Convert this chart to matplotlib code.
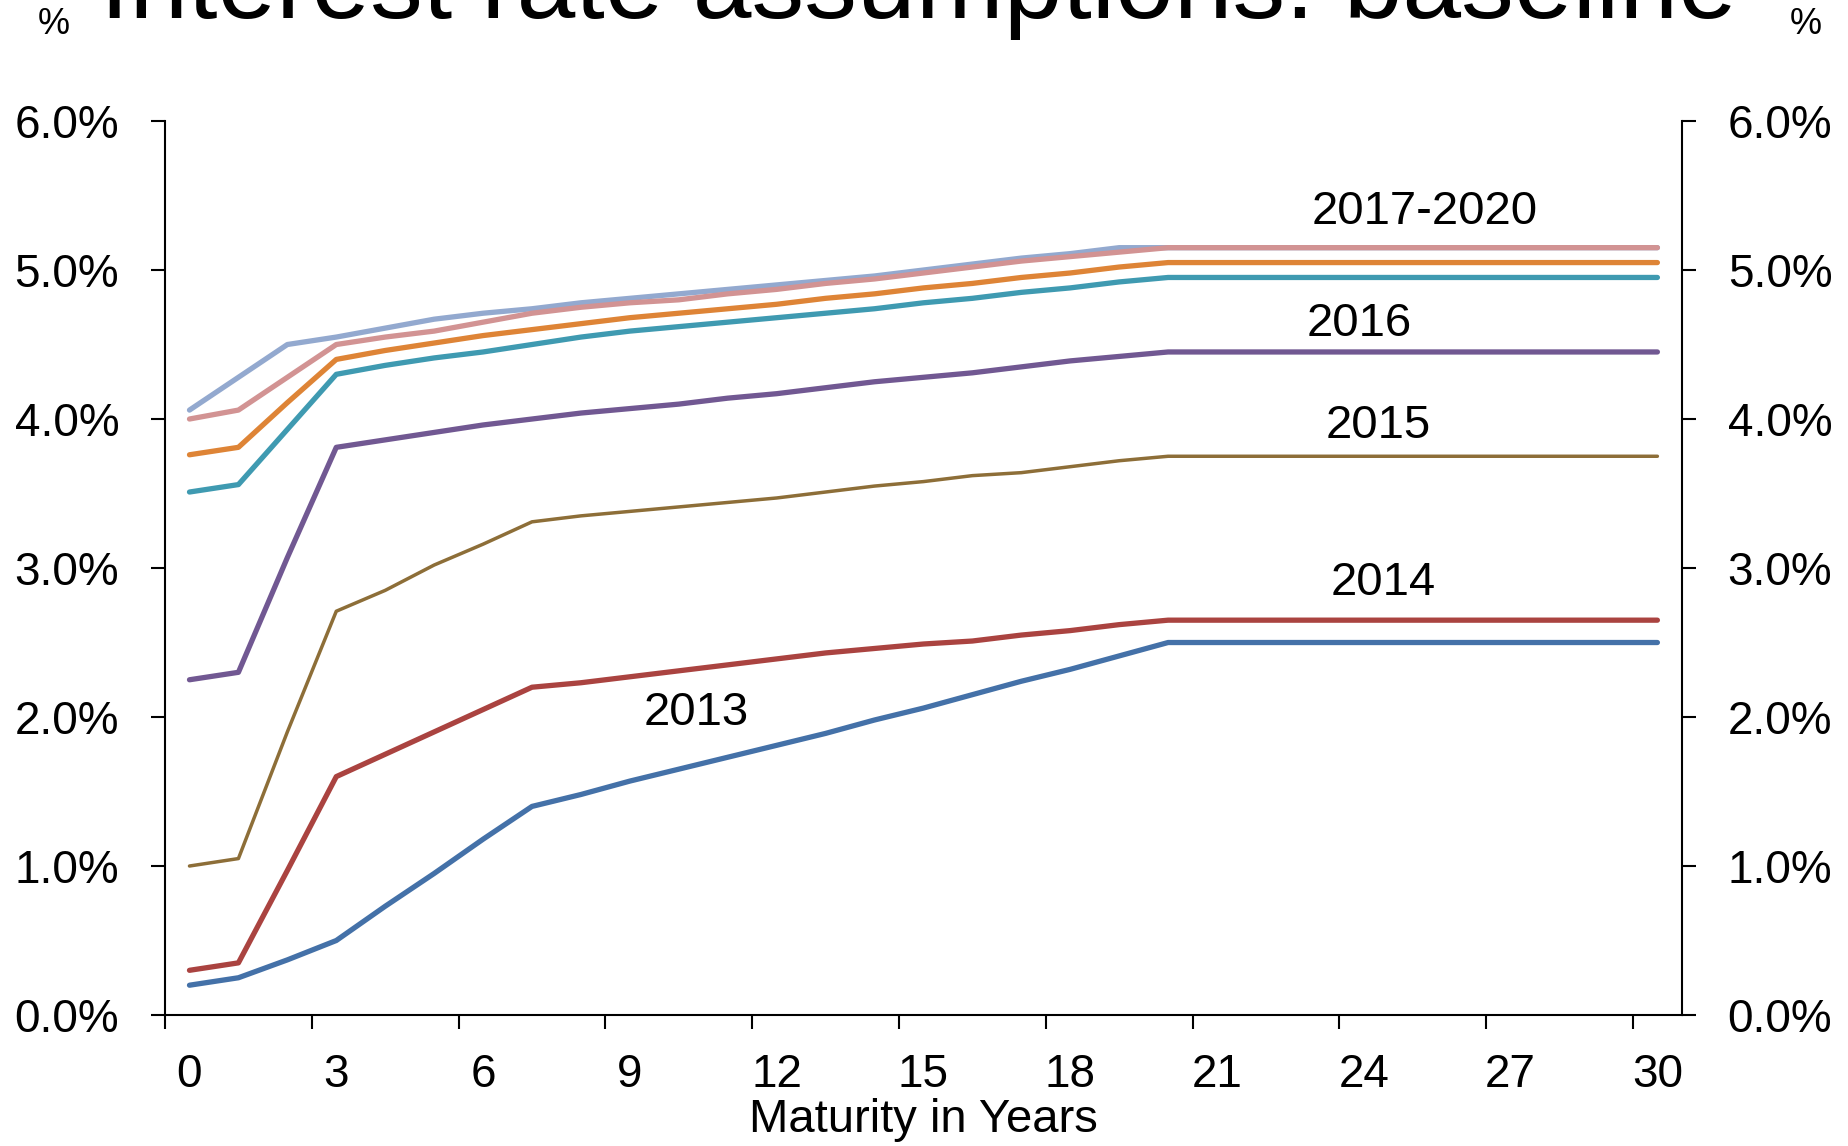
import matplotlib
matplotlib.use('Agg')
import matplotlib.pyplot as plt
from matplotlib.ticker import FixedLocator, FuncFormatter

plt.rcParams['font.family'] = ['Liberation Sans', 'DejaVu Sans']

# maturity in years (category axis)
maturity = list(range(31))
tick_years = [0, 3, 6, 9, 12, 15, 18, 21, 24, 27, 30]

# interest rate curves, % per year of maturity
rates_2013 = [0.20, 0.25, 0.37, 0.50, 0.73, 0.95, 1.18, 1.40, 1.48, 1.57, 1.65,
              1.73, 1.81, 1.89, 1.98, 2.06, 2.15, 2.24, 2.32, 2.41, 2.50,
              2.50, 2.50, 2.50, 2.50, 2.50, 2.50, 2.50, 2.50, 2.50, 2.50]
rates_2014 = [0.30, 0.35, 0.97, 1.60, 1.75, 1.90, 2.05, 2.20, 2.23, 2.27, 2.31,
              2.35, 2.39, 2.43, 2.46, 2.49, 2.51, 2.55, 2.58, 2.62, 2.65,
              2.65, 2.65, 2.65, 2.65, 2.65, 2.65, 2.65, 2.65, 2.65, 2.65]
rates_2015 = [1.00, 1.05, 1.90, 2.71, 2.85, 3.02, 3.16, 3.31, 3.35, 3.38, 3.41,
              3.44, 3.47, 3.51, 3.55, 3.58, 3.62, 3.64, 3.68, 3.72, 3.75,
              3.75, 3.75, 3.75, 3.75, 3.75, 3.75, 3.75, 3.75, 3.75, 3.75]
rates_2016 = [2.25, 2.30, 3.07, 3.81, 3.86, 3.91, 3.96, 4.00, 4.04, 4.07, 4.10,
              4.14, 4.17, 4.21, 4.25, 4.28, 4.31, 4.35, 4.39, 4.42, 4.45,
              4.45, 4.45, 4.45, 4.45, 4.45, 4.45, 4.45, 4.45, 4.45, 4.45]
rates_2017 = [3.51, 3.56, 3.93, 4.30, 4.36, 4.41, 4.45, 4.50, 4.55, 4.59, 4.62,
              4.65, 4.68, 4.71, 4.74, 4.78, 4.81, 4.85, 4.88, 4.92, 4.95,
              4.95, 4.95, 4.95, 4.95, 4.95, 4.95, 4.95, 4.95, 4.95, 4.95]
rates_2018 = [3.76, 3.81, 4.11, 4.40, 4.46, 4.51, 4.56, 4.60, 4.64, 4.68, 4.71,
              4.74, 4.77, 4.81, 4.84, 4.88, 4.91, 4.95, 4.98, 5.02, 5.05,
              5.05, 5.05, 5.05, 5.05, 5.05, 5.05, 5.05, 5.05, 5.05, 5.05]
rates_2020 = [4.06, 4.28, 4.50, 4.55, 4.61, 4.67, 4.71, 4.74, 4.78, 4.81, 4.84,
              4.87, 4.90, 4.93, 4.96, 5.00, 5.04, 5.08, 5.11, 5.15, 5.15,
              5.15, 5.15, 5.15, 5.15, 5.15, 5.15, 5.15, 5.15, 5.15, 5.15]
rates_2019 = [4.00, 4.06, 4.28, 4.50, 4.55, 4.59, 4.65, 4.71, 4.75, 4.78, 4.80,
              4.84, 4.87, 4.91, 4.94, 4.98, 5.02, 5.06, 5.09, 5.12, 5.15,
              5.15, 5.15, 5.15, 5.15, 5.15, 5.15, 5.15, 5.15, 5.15, 5.15]

series = [
    (rates_2020, '#93a9cf', 3.8),
    (rates_2019, '#d29393', 3.8),
    (rates_2018, '#de8436', 3.8),
    (rates_2017, '#3f9ab1', 3.8),
    (rates_2016, '#715892', 3.8),
    (rates_2015, '#8d6e38', 2.5),
    (rates_2014, '#aa4340', 3.8),
    (rates_2013, '#4471a8', 3.8),
]

labels = [('2017-2020', 25.25, 5.39), ('2016', 23.9, 4.64), ('2015', 24.3, 3.95),
          ('2014', 24.4, 2.90), ('2013', 10.35, 2.03)]

fig = plt.figure(figsize=(18.48, 11.46), dpi=100)
ax = fig.add_axes([0.0893, 0.1143, 0.8208, 0.7801])

for vals, color, lw in series:
    ax.plot(maturity, vals, color=color, lw=lw, solid_capstyle='round',
            solid_joinstyle='round')

for text, x, y in labels:
    ax.text(x, y, text, fontsize=34, ha='center', va='center')

ax.set_xlim(-0.5, 30.5)
ax.set_ylim(0, 6)

# ticks between categories, labels on categories
ax.xaxis.set_major_locator(FixedLocator([t - 0.5 for t in tick_years[:-1]] + [29.5]))
ax.xaxis.set_major_formatter(plt.NullFormatter())
ax.xaxis.set_minor_locator(FixedLocator(tick_years))
ax.xaxis.set_minor_formatter(FuncFormatter(lambda v, p: f'{int(round(v))}'))
ax.tick_params(axis='x', which='major', length=10, width=1.5, direction='out')
ax.tick_params(axis='x', which='minor', length=0, pad=27, labelsize=33)

yticks = [0, 1, 2, 3, 4, 5, 6]
ax.set_yticks(yticks)
ax.yaxis.set_major_formatter(FuncFormatter(lambda v, p: f'{v:.1f}%'))
ax.tick_params(axis='y', length=10, width=1.5, direction='out', pad=23,
               labelsize=33, left=True, right=True, labelleft=True, labelright=True)

ax.spines['top'].set_visible(False)
for side in ['left', 'right', 'bottom']:
    ax.spines[side].set_linewidth(1.5)

ax.set_xlabel('Maturity in Years', fontsize=34, labelpad=1)

fig.text(0.029, 0.979, '%', fontsize=26, ha='center', va='center')
fig.text(0.977, 0.979, '%', fontsize=26, ha='center', va='center')
fig.text(0.497, 0.984, 'Interest rate assumptions: baseline', fontsize=76,
         ha='center', va='baseline')

fig.savefig('out.png', dpi=100)
